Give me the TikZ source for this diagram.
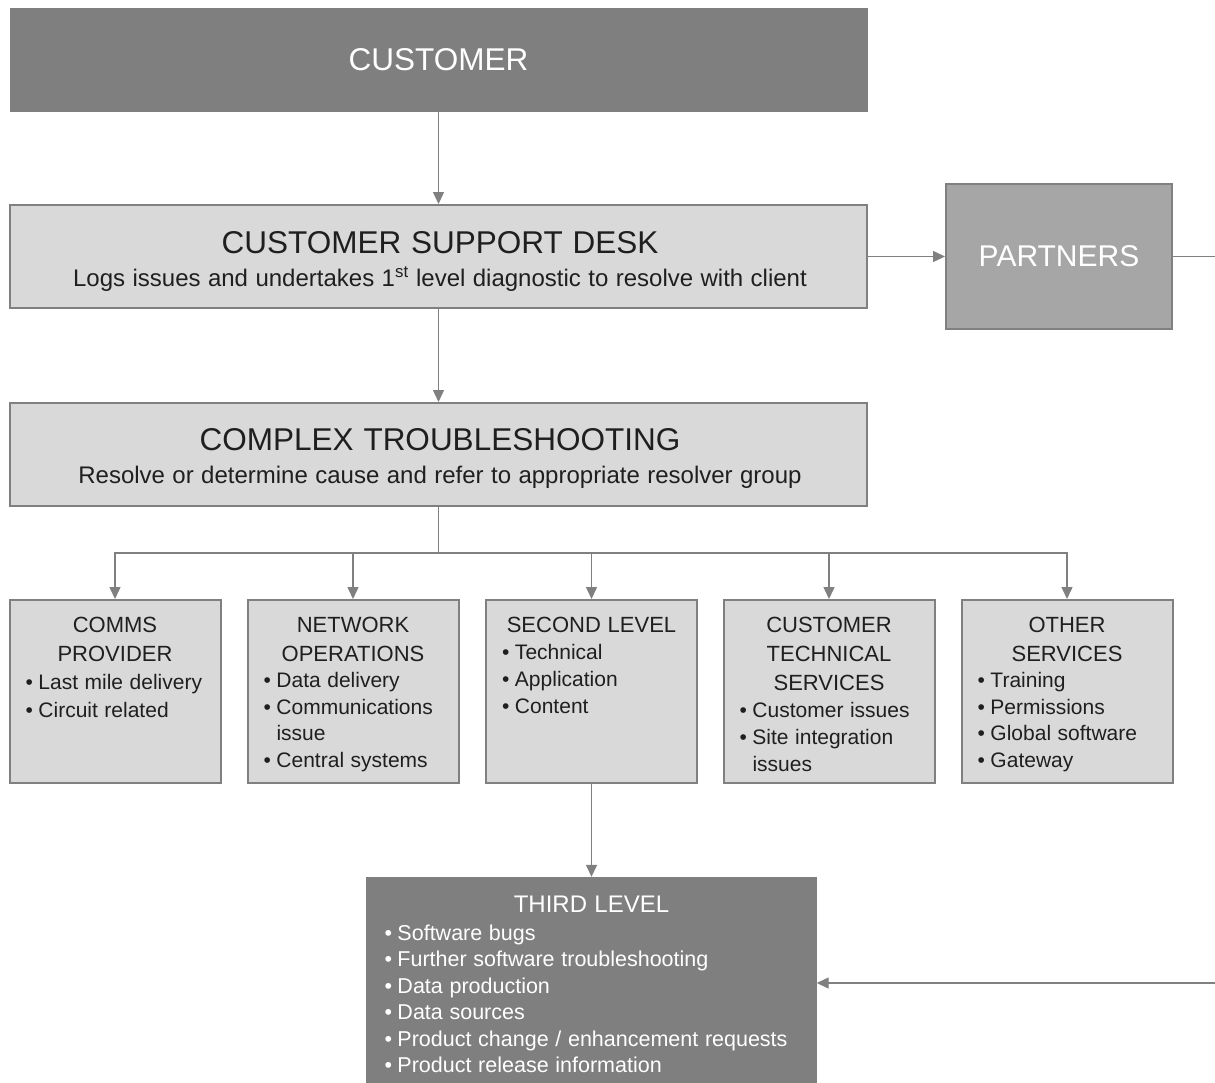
\documentclass[tikz,border=0pt]{standalone}
\usepackage{fontspec}
\setmainfont{Liberation Sans}
\usetikzlibrary{arrows.meta}
\definecolor{dk}{HTML}{7F7F7F}
\definecolor{md}{HTML}{A6A6A6}
\definecolor{lt}{HTML}{D9D9D9}
\definecolor{ln}{HTML}{808080}
\definecolor{tx}{HTML}{1F1F1F}
\newcommand\fs[2]{\fontsize{#1}{#2}\selectfont\spaceskip=0.31em plus 0.1em minus 0.05em\relax}
\newcommand\bul[1]{\par\hangindent=13pt\hangafter=1\noindent\makebox[13pt][l]{\textbullet}#1}
\newcommand\rowtitle[1]{{\centering\fs{22}{29}#1\par}}
\begin{document}
\begin{tikzpicture}[x=1pt,y=-1pt,
  conn/.style={draw=ln, line width=1.4pt, -{Triangle[width=11pt,length=12pt]}},
  plain/.style={draw=ln, line width=1.4pt},
  darkbox/.style={rectangle, fill=dk, draw=dk, inner sep=0pt, text=white},
  midbox/.style={rectangle, fill=md, draw=ln, line width=2pt, inner sep=0pt, text=white},
  lightbox/.style={rectangle, fill=lt, draw=ln, line width=2pt, inner sep=0pt, text=tx},
  rowbox/.style={lightbox, minimum width=211pt, minimum height=183pt},
  rowtext/.style={anchor=north, inner sep=0pt, text width=179pt, text=tx},
  bigtext/.style={inner sep=0pt, text width=840pt, text=tx}
]
\useasboundingbox (0,0) rectangle (1215,1082);

% top
\node[darkbox, minimum width=857pt, minimum height=103pt, font=\fs{31.5}{36}] (cust) at (438.5,59.5) {CUSTOMER};

\node[lightbox, minimum width=857pt, minimum height=103pt] (csd) at (438.5,256.5) {};
\node[bigtext, anchor=north] (csdt) at (440,231) {\centering\fs{31.5}{36}CUSTOMER SUPPORT DESK\par
  \fs{24}{33.5}Logs issues and undertakes 1\textsuperscript{st} level diagnostic to resolve with client\par};

\node[midbox, minimum width=226pt, minimum height=145pt, font=\fs{30}{34}] (part) at (1059,256.5) {PARTNERS};

\node[lightbox, minimum width=857pt, minimum height=103pt] (ct) at (438.5,454.5) {};
\node[bigtext, anchor=north] (ctt) at (440,428) {\centering\fs{31.5}{36}COMPLEX TROUBLESHOOTING\par
  \fs{24}{33.5}Resolve or determine cause and refer to appropriate resolver group\par};

% row of resolver groups
\node[rowbox] (comms) at (115,691.5) {};
\node[rowtext] (commst) at ([yshift=-17.5pt]comms.north) {\rowtitle{COMMS\\PROVIDER}%
  {\raggedright\fs{21}{28}\bul{Last mile delivery}\bul{Circuit related}\par}};

\node[rowbox] (netw) at (353,691.5) {};
\node[rowtext] (netwt) at ([yshift=-17.5pt]netw.north) {\rowtitle{NETWORK\\OPERATIONS}%
  {\raggedright\fs{21}{26.5}\bul{Data delivery}\bul{Communications\newline issue}\bul{Central systems}\par}};

\node[rowbox] (second) at (591.5,691.5) {};
\node[rowtext] (secondt) at ([yshift=-17.5pt]second.north) {\rowtitle{SECOND LEVEL}%
  {\raggedright\fs{21}{27}\bul{Technical}\bul{Application}\bul{Content}\par}};

\node[rowbox] (cts) at (829,691.5) {};
\node[rowtext] (ctst) at ([yshift=-17.5pt]cts.north) {\rowtitle{CUSTOMER\\TECHNICAL\\SERVICES}%
  {\raggedright\fs{21}{27}\bul{Customer issues}\bul{Site integration\newline issues}\par}};

\node[rowbox] (other) at (1067,691.5) {};
\node[rowtext] (othert) at ([yshift=-17.5pt]other.north) {\rowtitle{OTHER\\SERVICES}%
  {\raggedright\fs{21}{26.5}\bul{Training}\bul{Permissions}\bul{Global software}\bul{Gateway}\par}};

% third level
\node[darkbox, minimum width=450pt, minimum height=205pt] (third) at (591.5,979.5) {};
\node[anchor=north, inner sep=0pt, text width=414pt, text=white] (thirdt) at ([yshift=-19pt]third.north)
  {{\centering\fs{24}{29}THIRD LEVEL\par}%
   {\raggedright\fs{21.5}{26.4}%
   \vspace*{1.5pt}%
   \bul{Software bugs}\bul{Further software troubleshooting}\bul{Data production}\bul{Data sources}%
   \bul{Product change / enhancement requests}\bul{Product release information}\par}};

% connectors
\draw[conn] (cust.south) -- (csd.north);
\draw[conn] (csd.east) -- (part.west);
\coordinate (pr) at (1215,256.5);
\draw[plain] (part.east) -- (pr);
\draw[conn] (csd.south) -- (ct.north);
\coordinate (bus) at (438.5,553);
\draw[plain] (ct.south) -- (bus);
\draw[conn] (bus) -| (comms.north);
\draw[conn] (bus) -| (netw.north);
\draw[conn] (bus) -| (second.north);
\draw[conn] (bus) -| (cts.north);
\draw[conn] (bus) -| (other.north);
\draw[conn] (second.south) -- (third.north);
\coordinate (tr) at (1215,983);
\draw[conn] (tr) -- (tr -| third.east);
\end{tikzpicture}
\end{document}
